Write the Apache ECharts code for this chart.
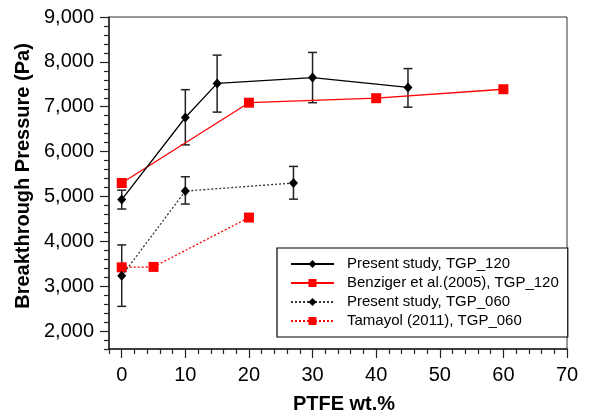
<!DOCTYPE html>
<html>
<head>
<meta charset="utf-8">
<script src="https://cdn.jsdelivr.net/npm/echarts@6/dist/echarts.min.js"></script>
<style>
  html, body { margin: 0; padding: 0; background: #fff; }
  #chart { width: 591px; height: 417px; }
</style>
</head>
<body>
<div id="chart"></div>
<script>
// Axis ticks
const xMajorTicks = [0, 10, 20, 30, 40, 50, 60, 70];
const xMinorTicks = [-2, 2, 4, 6, 8, 12, 14, 16, 18, 22, 24, 26, 28, 32, 34, 36, 38, 42, 44, 46, 48, 52, 54, 56, 58, 62, 64, 66, 68];
const yMajorTicks = [2000, 3000, 4000, 5000, 6000, 7000, 8000, 9000];
const yMinorTicks = [1600, 1800, 2200, 2400, 2600, 2800, 3200, 3400, 3600, 3800, 4200, 4400, 4600, 4800,
  5200, 5400, 5600, 5800, 6200, 6400, 6600, 6800, 7200, 7400, 7600, 7800, 8200, 8400, 8600, 8800];

// Present study, TGP_120
const present120X = [0, 10, 15, 30, 45];
const present120Y = [4930, 6760, 7520, 7650, 7430];
const present120Lo = [4720, 6150, 6880, 7090, 6990];
const present120Hi = [5140, 7380, 8150, 8210, 7850];

// Benziger et al.(2005), TGP_120
const benzigerX = [0, 20, 40, 60];
const benzigerY = [5300, 7090, 7190, 7390];

// Present study, TGP_060
const present060X = [0, 10, 27];
const present060Y = [3230, 5120, 5300];
const present060Lo = [2550, 4830, 4940];
const present060Hi = [3920, 5440, 5670];

// Tamayol (2011), TGP_060
const tamayolX = [0, 5, 20];
const tamayolY = [3420, 3430, 4530];

const FONT = '"Liberation Sans", Arial, sans-serif';
const zip = (xs, ys) => xs.map((x, i) => [x, ys[i]]);
const errData = (xs, lo, hi) => xs.map((x, i) => [x, lo[i], hi[i]]);

function errorBars(name, data) {
  return {
    name: name,
    type: 'custom',
    z: 1,
    silent: true,
    data: data,
    encode: { x: 0, y: [1, 2] },
    renderItem: (params, api) => {
      const x = api.value(0);
      const lo = api.coord([x, api.value(1)]);
      const hi = api.coord([x, api.value(2)]);
      const cap = 4.5;
      const style = { stroke: '#222', lineWidth: 1.5 };
      return {
        type: 'group',
        children: [
          { type: 'line', shape: { x1: lo[0], y1: lo[1], x2: hi[0], y2: hi[1] }, style: style },
          { type: 'line', shape: { x1: lo[0] - cap, y1: lo[1], x2: lo[0] + cap, y2: lo[1] }, style: style },
          { type: 'line', shape: { x1: hi[0] - cap, y1: hi[1], x2: hi[0] + cap, y2: hi[1] }, style: style }
        ]
      };
    }
  };
}

const axisLineStyle = { color: '#222', width: 1.5 };
const tickStyle = { color: '#222', width: 1.2 };

const chart = echarts.init(document.getElementById('chart'));
chart.setOption({
  animation: false,
  textStyle: { fontFamily: FONT },
  grid: {
    left: 109, top: 17, right: 24, bottom: 68,
    outerBoundsMode: 'none',
    show: true, borderColor: '#333', borderWidth: 1
  },
  xAxis: [
    {
      type: 'value', min: -2, max: 70,
      name: 'PTFE wt.%', nameLocation: 'middle', nameGap: 45,
      nameTextStyle: { fontSize: 20, fontWeight: 'bold', color: '#000', fontFamily: FONT, padding: [0, 0, 0, 12] },
      axisLine: { onZero: false, lineStyle: axisLineStyle },
      axisTick: { customValues: xMajorTicks, length: 9, lineStyle: tickStyle },
      axisLabel: { customValues: xMajorTicks, fontSize: 20, color: '#000', margin: 16, fontFamily: FONT },
      splitLine: { show: false }
    },
    {
      type: 'value', min: -2, max: 70, position: 'bottom',
      axisLine: { show: false, onZero: false },
      axisTick: { customValues: xMinorTicks, length: 5, lineStyle: tickStyle },
      axisLabel: { show: false },
      splitLine: { show: false }
    }
  ],
  yAxis: [
    {
      type: 'value', min: 1600, max: 9000,
      name: 'Breakthrough Pressure (Pa)', nameLocation: 'middle', nameGap: 70, nameRotate: 90,
      nameTextStyle: { fontSize: 20, fontWeight: 'bold', color: '#000', fontFamily: FONT, padding: [0, 0, 0, 14] },
      axisLine: { onZero: false, lineStyle: axisLineStyle },
      axisTick: { customValues: yMajorTicks, length: 9, lineStyle: tickStyle },
      axisLabel: {
        customValues: yMajorTicks, fontSize: 20, color: '#000', margin: 15, fontFamily: FONT,
        formatter: v => v.toLocaleString('en-US')
      },
      splitLine: { show: false }
    },
    {
      type: 'value', min: 1600, max: 9000, position: 'left',
      axisLine: { show: false, onZero: false },
      axisTick: { customValues: yMinorTicks, length: 5, lineStyle: tickStyle },
      axisLabel: { show: false },
      splitLine: { show: false }
    }
  ],
  legend: {
    orient: 'vertical',
    left: 277, top: 248,
    padding: [8, 9, 8, 13],
    borderColor: '#000', borderWidth: 1.2,
    backgroundColor: '#fff',
    itemWidth: 43, itemHeight: 10, itemGap: 3,
    textStyle: { fontSize: 15, color: '#000', lineHeight: 16, fontFamily: FONT, padding: [0, 0, 0, 8] },
    data: ['Present study, TGP_120', 'Benziger et al.(2005), TGP_120', 'Present study, TGP_060', 'Tamayol (2011), TGP_060']
  },
  series: [
    errorBars('err120', errData(present120X, present120Lo, present120Hi)),
    errorBars('err060', errData(present060X, present060Lo, present060Hi)),
    {
      name: 'Present study, TGP_120', type: 'line', z: 3,
      data: zip(present120X, present120Y),
      symbol: 'diamond', symbolSize: [9, 10],
      itemStyle: { color: '#000' },
      lineStyle: { color: '#000', width: 1.3 }
    },
    {
      name: 'Benziger et al.(2005), TGP_120', type: 'line', z: 2,
      data: zip(benzigerX, benzigerY),
      symbol: 'rect', symbolSize: 10,
      itemStyle: { color: '#ff0000' },
      lineStyle: { color: '#ff0000', width: 1.3 }
    },
    {
      name: 'Present study, TGP_060', type: 'line', z: 3,
      data: zip(present060X, present060Y),
      symbol: 'diamond', symbolSize: [9, 10],
      itemStyle: { color: '#000' },
      lineStyle: { color: '#333', width: 1.3, type: [2, 2] }
    },
    {
      name: 'Tamayol (2011), TGP_060', type: 'line', z: 2,
      data: zip(tamayolX, tamayolY),
      symbol: 'rect', symbolSize: 10,
      itemStyle: { color: '#ff0000' },
      lineStyle: { color: '#ff0000', width: 1.3, type: [2, 2] }
    }
  ]
});
</script>
</body>
</html>
